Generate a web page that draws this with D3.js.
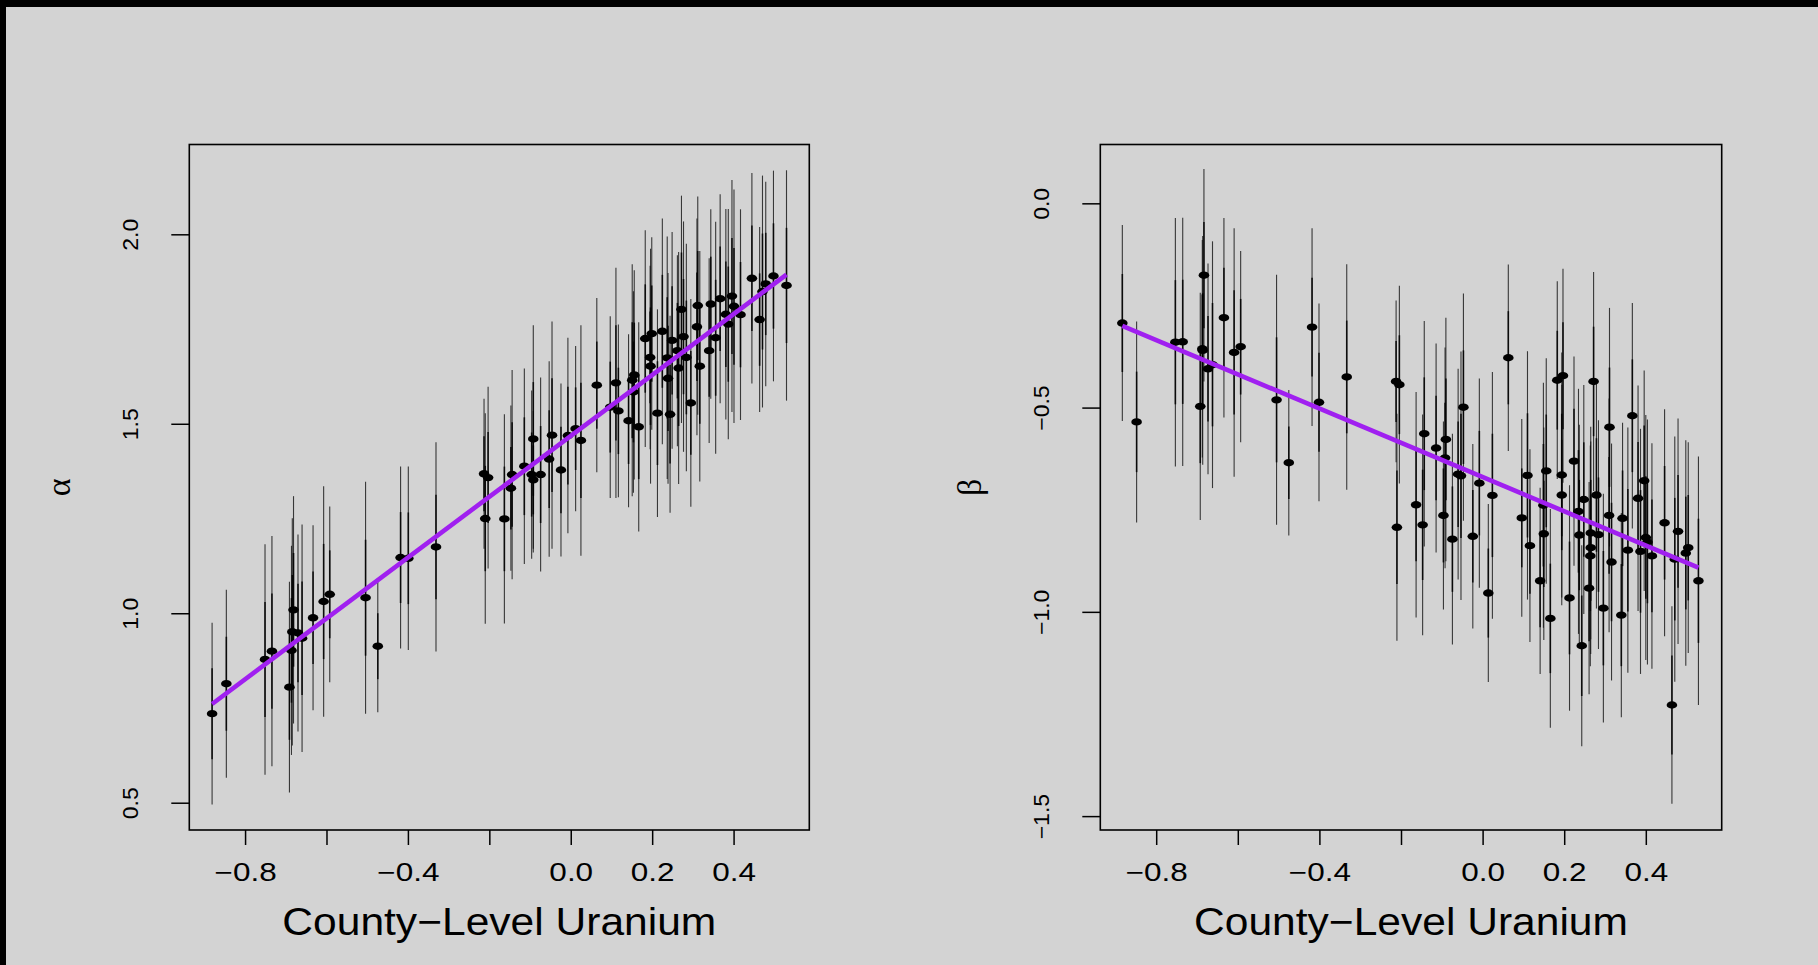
<!DOCTYPE html>
<html>
<head>
<meta charset="utf-8">
<script src="https://cdn.jsdelivr.net/npm/d3@7"></script>
<style>
    body {margin: 0; background: #d3d3d3;}
    svg {display: block;}
    .tick-label {font-family: "Liberation Sans", Arial, Helvetica, sans-serif; fill: #000;}
    .greek {font-family: "Liberation Serif", "DejaVu Serif", serif; fill: #000;}
</style>
</head>
<body>
<svg id="chart" width="1818" height="965"></svg>
<script>
// county-level uranium (log) and estimated intercepts
const uAlpha = [-0.881, -0.846, -0.751, -0.734, -0.691, -0.681, -0.684, -0.686, -0.670, -0.660,
    -0.633, -0.607, -0.592, -0.504, -0.474, -0.418, -0.399, -0.331, -0.213, -0.203,
    -0.210, -0.163, -0.144, -0.147, -0.114, -0.092, -0.096, -0.092, -0.074, -0.053,
    -0.046, -0.024, -0.007, 0.012, 0.025, 0.064, 0.097, 0.111, 0.117, 0.142,
    0.151, 0.156, 0.154, 0.167, 0.183, 0.195, 0.196, 0.199, 0.213, 0.225,
    0.237, 0.239, 0.244, 0.249, 0.262, 0.265, 0.272, 0.277, 0.284, 0.295,
    0.310, 0.312, 0.317, 0.340, 0.344, 0.356, 0.367, 0.381, 0.387, 0.396,
    0.401, 0.417, 0.445, 0.464, 0.471, 0.479, 0.498, 0.530];
const alpha = [0.735, 0.814, 0.878, 0.900, 0.805, 1.009, 0.951, 0.902, 0.948, 0.934,
    0.988, 1.031, 1.050, 1.041, 0.913, 1.147, 1.145, 1.175, 1.368, 1.358,
    1.250, 1.249, 1.366, 1.330, 1.388, 1.460, 1.366, 1.352, 1.366, 1.407,
    1.470, 1.378, 1.469, 1.487, 1.456, 1.602, 1.544, 1.608, 1.534, 1.508,
    1.615, 1.629, 1.584, 1.492, 1.725, 1.675, 1.652, 1.738, 1.528, 1.744,
    1.674, 1.620, 1.525, 1.720, 1.693, 1.647, 1.802, 1.730, 1.675, 1.555,
    1.756, 1.812, 1.652, 1.693, 1.816, 1.727, 1.830, 1.789, 1.763, 1.837,
    1.810, 1.788, 1.884, 1.775, 1.849, 1.869, 1.890, 1.865];
const alphaSe = [0.120, 0.124, 0.152, 0.152, 0.139, 0.150, 0.150, 0.138, 0.130, 0.150,
    0.122, 0.152, 0.116, 0.153, 0.087, 0.120, 0.121, 0.138, 0.099, 0.120,
    0.139, 0.138, 0.138, 0.109, 0.129, 0.150, 0.111, 0.091, 0.128, 0.129,
    0.150, 0.114, 0.129, 0.109, 0.152, 0.115, 0.120, 0.152, 0.114, 0.114,
    0.153, 0.138, 0.133, 0.138, 0.143, 0.121, 0.155, 0.127, 0.137, 0.149,
    0.160, 0.139, 0.130, 0.143, 0.126, 0.153, 0.150, 0.152, 0.150, 0.137,
    0.143, 0.144, 0.152, 0.122, 0.125, 0.153, 0.138, 0.139, 0.152, 0.153,
    0.154, 0.139, 0.139, 0.122, 0.153, 0.135, 0.139, 0.152];

// the same counties, estimated slopes
const uBeta = [-0.883, -0.848, -0.753, -0.735, -0.692, -0.683, -0.687, -0.686, -0.673, -0.662,
    -0.634, -0.609, -0.593, -0.505, -0.475, -0.418, -0.401, -0.333, -0.212, -0.204,
    -0.210, -0.163, -0.147, -0.143, -0.114, -0.096, -0.090, -0.092, -0.074, -0.060,
    -0.053, -0.047, -0.024, -0.008, 0.014, 0.024, 0.063, 0.096, 0.110, 0.116,
    0.141, 0.149, 0.150, 0.156, 0.166, 0.183, 0.194, 0.197, 0.194, 0.213,
    0.224, 0.235, 0.237, 0.243, 0.248, 0.261, 0.264, 0.265, 0.265, 0.272,
    0.279, 0.284, 0.296, 0.310, 0.311, 0.316, 0.340, 0.343, 0.356, 0.367,
    0.381, 0.387, 0.396, 0.400, 0.404, 0.415, 0.446, 0.464, 0.471, 0.479,
    0.498, 0.504, 0.529];
const beta = [-0.293, -0.535, -0.340, -0.339, -0.497, -0.176, -0.356, -0.360, -0.405, -0.395,
    -0.280, -0.365, -0.351, -0.481, -0.635, -0.303, -0.487, -0.425, -0.436, -0.444,
    -0.793, -0.738, -0.787, -0.564, -0.599, -0.764, -0.578, -0.623, -0.822, -0.663,
    -0.667, -0.499, -0.815, -0.685, -0.954, -0.715, -0.378, -0.770, -0.666, -0.838,
    -0.924, -0.739, -0.809, -0.655, -1.016, -0.433, -0.665, -0.422, -0.714, -0.966,
    -0.631, -0.754, -0.812, -1.083, -0.725, -0.942, -0.863, -0.843, -0.807, -0.436,
    -0.714, -0.811, -0.991, -0.764, -0.548, -0.878, -1.008, -0.771, -0.849, -0.520,
    -0.722, -0.852, -0.679, -0.818, -0.829, -0.863, -0.782, -1.228, -0.871, -0.803,
    -0.856, -0.843, -0.924];
const betaSe = [0.120, 0.123, 0.152, 0.152, 0.139, 0.130, 0.133, 0.140, 0.129, 0.151,
    0.122, 0.152, 0.117, 0.153, 0.089, 0.121, 0.121, 0.138, 0.099, 0.121,
    0.139, 0.138, 0.135, 0.138, 0.128, 0.115, 0.149, 0.135, 0.129, 0.129,
    0.152, 0.139, 0.113, 0.128, 0.109, 0.151, 0.114, 0.121, 0.152, 0.118,
    0.114, 0.150, 0.130, 0.138, 0.134, 0.121, 0.150, 0.131, 0.135, 0.138,
    0.128, 0.150, 0.135, 0.123, 0.140, 0.130, 0.135, 0.130, 0.130, 0.134,
    0.139, 0.140, 0.140, 0.143, 0.146, 0.145, 0.125, 0.117, 0.150, 0.138,
    0.138, 0.150, 0.135, 0.150, 0.150, 0.138, 0.139, 0.121, 0.150, 0.138,
    0.138, 0.129, 0.152];

// group-level regression lines: [intercept, slope]
const alphaLine = [1.468, 0.803];
const betaLine = [-0.670, -0.419];

const xLim = [-0.937, 0.586];
const alphaLim = [0.428, 2.237];
const betaLim = [-1.534, 0.144];

const xTicks = [-0.8, -0.6, -0.4, -0.2, 0.0, 0.2, 0.4];
const xTickLabels = ["\u22120.8", "", "\u22120.4", "", "0.0", "0.2", "0.4"];
const alphaTicks = [0.5, 1.0, 1.5, 2.0];
const alphaTickLabels = ["0.5", "1.0", "1.5", "2.0"];
const betaTicks = [0.0, -0.5, -1.0, -1.5];
const betaTickLabels = ["0.0", "\u22120.5", "\u22121.0", "\u22121.5"];

const xTitle = "County\u2212Level Uranium";

const svg = d3.select("#chart");

// black strips along the top and left edge of the original picture
svg.append("rect").attr("x", 0).attr("y", 0).attr("width", 1818).attr("height", 7).attr("fill", "#000");
svg.append("rect").attr("x", 0).attr("y", 0).attr("width", 6).attr("height", 965).attr("fill", "#000");

const drawPanel = (opt) => {
    const {left, right, top, bottom, u, est, se, line, yLim, yTicks, yTickLabels, yTitle} = opt;

    const scale_x = d3.scaleLinear().domain(xLim).range([left, right]);
    const scale_y = d3.scaleLinear().domain(yLim).range([bottom, top]);

    const g = svg.append("g");

    // +-2 se bars, then the darker +-1 se part
    g.append("g").selectAll("line")
        .data(u)
        .join("line")
        .attr("x1", d => scale_x(d))
        .attr("x2", d => scale_x(d))
        .attr("y1", (d, i) => scale_y(est[i] - 2 * se[i]))
        .attr("y2", (d, i) => scale_y(est[i] + 2 * se[i]))
        .attr("stroke", "#111")
        .attr("stroke-opacity", 0.8)
        .attr("stroke-width", 1.1);
    g.append("g").selectAll("line")
        .data(u)
        .join("line")
        .attr("x1", d => scale_x(d))
        .attr("x2", d => scale_x(d))
        .attr("y1", (d, i) => scale_y(est[i] - se[i]))
        .attr("y2", (d, i) => scale_y(est[i] + se[i]))
        .attr("stroke", "#000")
        .attr("stroke-opacity", 0.85)
        .attr("stroke-width", 1.6);

    g.append("g").selectAll("ellipse")
        .data(u)
        .join("ellipse")
        .attr("cx", d => scale_x(d))
        .attr("cy", (d, i) => scale_y(est[i]))
        .attr("rx", 5.3)
        .attr("ry", 3.7)
        .attr("fill", "#000");

    const ext = d3.extent(u);
    const line_generator = d3.line()
        .x(d => scale_x(d))
        .y(d => scale_y(line[0] + line[1] * d));
    g.append("path")
        .attr("d", line_generator(ext))
        .attr("fill", "none")
        .attr("stroke", "#a020f0")
        .attr("stroke-width", 4.6);

    g.append("rect")
        .attr("x", left).attr("y", top)
        .attr("width", right - left).attr("height", bottom - top)
        .attr("fill", "none")
        .attr("stroke", "#000")
        .attr("stroke-width", 1.6);

    // x axis
    const gx = g.append("g")
        .attr("transform", "translate(0," + bottom + ")")
        .call(d3.axisBottom(scale_x)
            .tickValues(xTicks)
            .tickSize(15)
            .tickFormat((d, i) => xTickLabels[i]));
    gx.select(".domain").remove();
    gx.selectAll(".tick line").attr("stroke", "#000").attr("stroke-width", 1.5);
    gx.selectAll(".tick text")
        .attr("class", "tick-label")
        .attr("y", 51)
        .attr("dy", null)
        .attr("font-size", 25)
        .attr("transform", "scale(1.26,1)");

    // y axis, labels parallel to the axis
    const gy = g.append("g")
        .attr("transform", "translate(" + left + ",0)")
        .call(d3.axisLeft(scale_y)
            .tickValues(yTicks)
            .tickSize(18)
            .tickFormat((d, i) => yTickLabels[i]));
    gy.select(".domain").remove();
    gy.selectAll(".tick line").attr("stroke", "#000").attr("stroke-width", 1.5);
    gy.selectAll(".tick text")
        .attr("class", "tick-label")
        .attr("x", null)
        .attr("dy", null)
        .attr("font-size", 23)
        .attr("text-anchor", "middle")
        .attr("transform", "translate(-51,0) rotate(-90) scale(1,0.92)");

    g.append("text")
        .attr("class", "tick-label")
        .attr("text-anchor", "middle")
        .attr("font-size", 38)
        .attr("transform", `translate(${(left + right) / 2}, ${bottom + 105}) scale(1.12,1)`)
        .text(xTitle);

    g.append("text")
        .attr("class", "greek")
        .attr("text-anchor", "middle")
        .attr("font-size", 34)
        .attr("transform", `translate(${left - 119}, ${(top + bottom) / 2}) rotate(-90)`)
        .text(yTitle);
}

drawPanel({left: 189.3, right: 809.3, top: 144.5, bottom: 830,
    u: uAlpha, est: alpha, se: alphaSe, line: alphaLine,
    yLim: alphaLim, yTicks: alphaTicks, yTickLabels: alphaTickLabels, yTitle: "\u03b1"});
drawPanel({left: 1100.3, right: 1721.7, top: 144.5, bottom: 830,
    u: uBeta, est: beta, se: betaSe, line: betaLine,
    yLim: betaLim, yTicks: betaTicks, yTickLabels: betaTickLabels, yTitle: "\u03b2"});
</script>
</body>
</html>
